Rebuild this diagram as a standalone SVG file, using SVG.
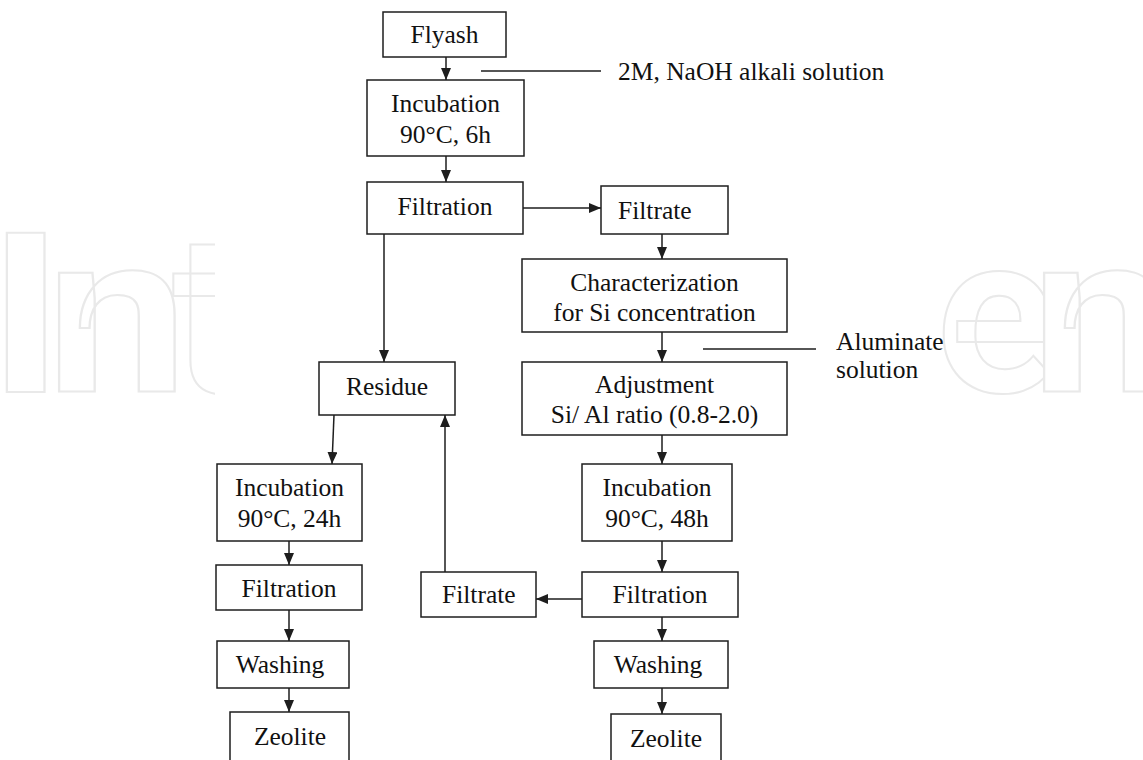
<svg xmlns="http://www.w3.org/2000/svg" width="1143" height="760" viewBox="0 0 1143 760">
<style>
.wm{font-family:Roboto,"Liberation Sans",sans-serif;font-weight:700;font-size:224px;fill:#fff;stroke:#e9e9e9;stroke-width:2}
.box{fill:#fff;stroke:#1e1e1e;stroke-width:1.5}
.t{font-family:"Liberation Serif","Times New Roman",serif;font-size:25.5px;fill:#111}
.c{text-anchor:middle}
.ln{stroke:#1e1e1e;stroke-width:1.5;fill:none}
</style>
<defs>
<marker id="ah" markerUnits="userSpaceOnUse" markerWidth="12" markerHeight="10" refX="12" refY="5" orient="auto">
<path d="M0,0 L12,5 L0,10 z" fill="#1e1e1e"/>
</marker>
<clipPath id="wmclip"><rect x="0" y="0" width="215" height="760"/><rect x="940" y="0" width="203" height="760"/></clipPath>
</defs>
<rect width="1143" height="760" fill="#fff"/>
<g id="watermark" clip-path="url(#wmclip)">
<text class="wm" transform="translate(-12,392) scale(1.15,1)" x="0" y="0">I</text>
<text class="wm" transform="translate(46,392) scale(1.13,1)" x="0" y="0">n</text>
<text class="wm" transform="translate(172,392)" x="0" y="0">t</text>
<text class="wm" transform="translate(936,392)" x="0" y="0">e</text>
<text class="wm" transform="translate(1031,392) scale(1.13,1)" x="0" y="0">n</text>
</g>
<g id="connectors">
<line class="ln" x1="446" y1="57" x2="446" y2="80" marker-end="url(#ah)"/>
<line class="ln" x1="446" y1="156" x2="446" y2="182" marker-end="url(#ah)"/>
<line class="ln" x1="523" y1="208" x2="601" y2="208" marker-end="url(#ah)"/>
<line class="ln" x1="662" y1="234" x2="662" y2="259" marker-end="url(#ah)"/>
<line class="ln" x1="662" y1="332" x2="662" y2="362" marker-end="url(#ah)"/>
<line class="ln" x1="662" y1="435" x2="662" y2="464" marker-end="url(#ah)"/>
<line class="ln" x1="662" y1="541" x2="662" y2="572" marker-end="url(#ah)"/>
<line class="ln" x1="662" y1="617" x2="662" y2="641" marker-end="url(#ah)"/>
<line class="ln" x1="662" y1="688" x2="662" y2="714" marker-end="url(#ah)"/>
<line class="ln" x1="582" y1="599" x2="536" y2="599" marker-end="url(#ah)"/>
<line class="ln" x1="445" y1="572" x2="445" y2="415" marker-end="url(#ah)"/>
<line class="ln" x1="384" y1="234" x2="384" y2="362" marker-end="url(#ah)"/>
<line class="ln" x1="334" y1="415" x2="332" y2="464" marker-end="url(#ah)"/>
<line class="ln" x1="289" y1="541" x2="289" y2="565" marker-end="url(#ah)"/>
<line class="ln" x1="289" y1="610" x2="289" y2="641" marker-end="url(#ah)"/>
<line class="ln" x1="289" y1="688" x2="289" y2="712" marker-end="url(#ah)"/>
<line class="ln" x1="481" y1="71" x2="601" y2="71"/>
<line class="ln" x1="703" y1="349" x2="816" y2="349"/>
</g>
<g id="flyash"><rect class="box" x="383" y="12" width="123" height="45"/><text class="t c" x="444.5" y="43">Flyash</text></g>
<g id="naoh-label"><text class="t" x="618" y="80">2M, NaOH alkali solution</text></g>
<g id="incubation1"><rect class="box" x="367" y="80" width="157" height="76"/><text class="t c" x="445.5" y="112">Incubation</text><text class="t c" x="445.5" y="143">90°C, 6h</text></g>
<g id="filtration1"><rect class="box" x="367" y="182" width="156" height="52"/><text class="t c" x="445" y="215">Filtration</text></g>
<g id="filtrate1"><rect class="box" x="601" y="186" width="127" height="48"/><text class="t" x="618" y="219">Filtrate</text></g>
<g id="characterization"><rect class="box" x="522" y="259" width="265" height="73"/><text class="t c" x="654.5" y="291">Characterization</text><text class="t c" x="654.5" y="321">for Si concentration</text></g>
<g id="aluminate-label"><text class="t" x="836" y="350">Aluminate</text><text class="t" x="836" y="378">solution</text></g>
<g id="adjustment"><rect class="box" x="522" y="362" width="265" height="73"/><text class="t c" x="654.5" y="393">Adjustment</text><text class="t c" x="654.5" y="423">Si/ Al ratio (0.8-2.0)</text></g>
<g id="residue"><rect class="box" x="319" y="362" width="136" height="53"/><text class="t c" x="387" y="395">Residue</text></g>
<g id="incubation2"><rect class="box" x="217" y="464" width="145" height="77"/><text class="t c" x="289.5" y="496">Incubation</text><text class="t c" x="289.5" y="527">90°C, 24h</text></g>
<g id="incubation3"><rect class="box" x="582" y="464" width="150" height="77"/><text class="t c" x="657" y="496">Incubation</text><text class="t c" x="657" y="527">90°C, 48h</text></g>
<g id="filtration2"><rect class="box" x="216" y="565" width="146" height="45"/><text class="t c" x="289" y="597">Filtration</text></g>
<g id="filtration3"><rect class="box" x="582" y="572" width="156" height="45"/><text class="t c" x="660" y="603">Filtration</text></g>
<g id="filtrate2"><rect class="box" x="421" y="572" width="115" height="45"/><text class="t" x="442" y="603">Filtrate</text></g>
<g id="washing2"><rect class="box" x="217" y="641" width="132" height="47"/><text class="t c" x="280" y="673">Washing</text></g>
<g id="washing3"><rect class="box" x="594" y="641" width="134" height="47"/><text class="t c" x="658" y="673">Washing</text></g>
<g id="zeolite2"><rect class="box" x="230" y="712" width="119" height="60"/><text class="t c" x="290" y="745">Zeolite</text></g>
<g id="zeolite3"><rect class="box" x="611" y="714" width="110" height="60"/><text class="t c" x="666" y="747">Zeolite</text></g>
</svg>
